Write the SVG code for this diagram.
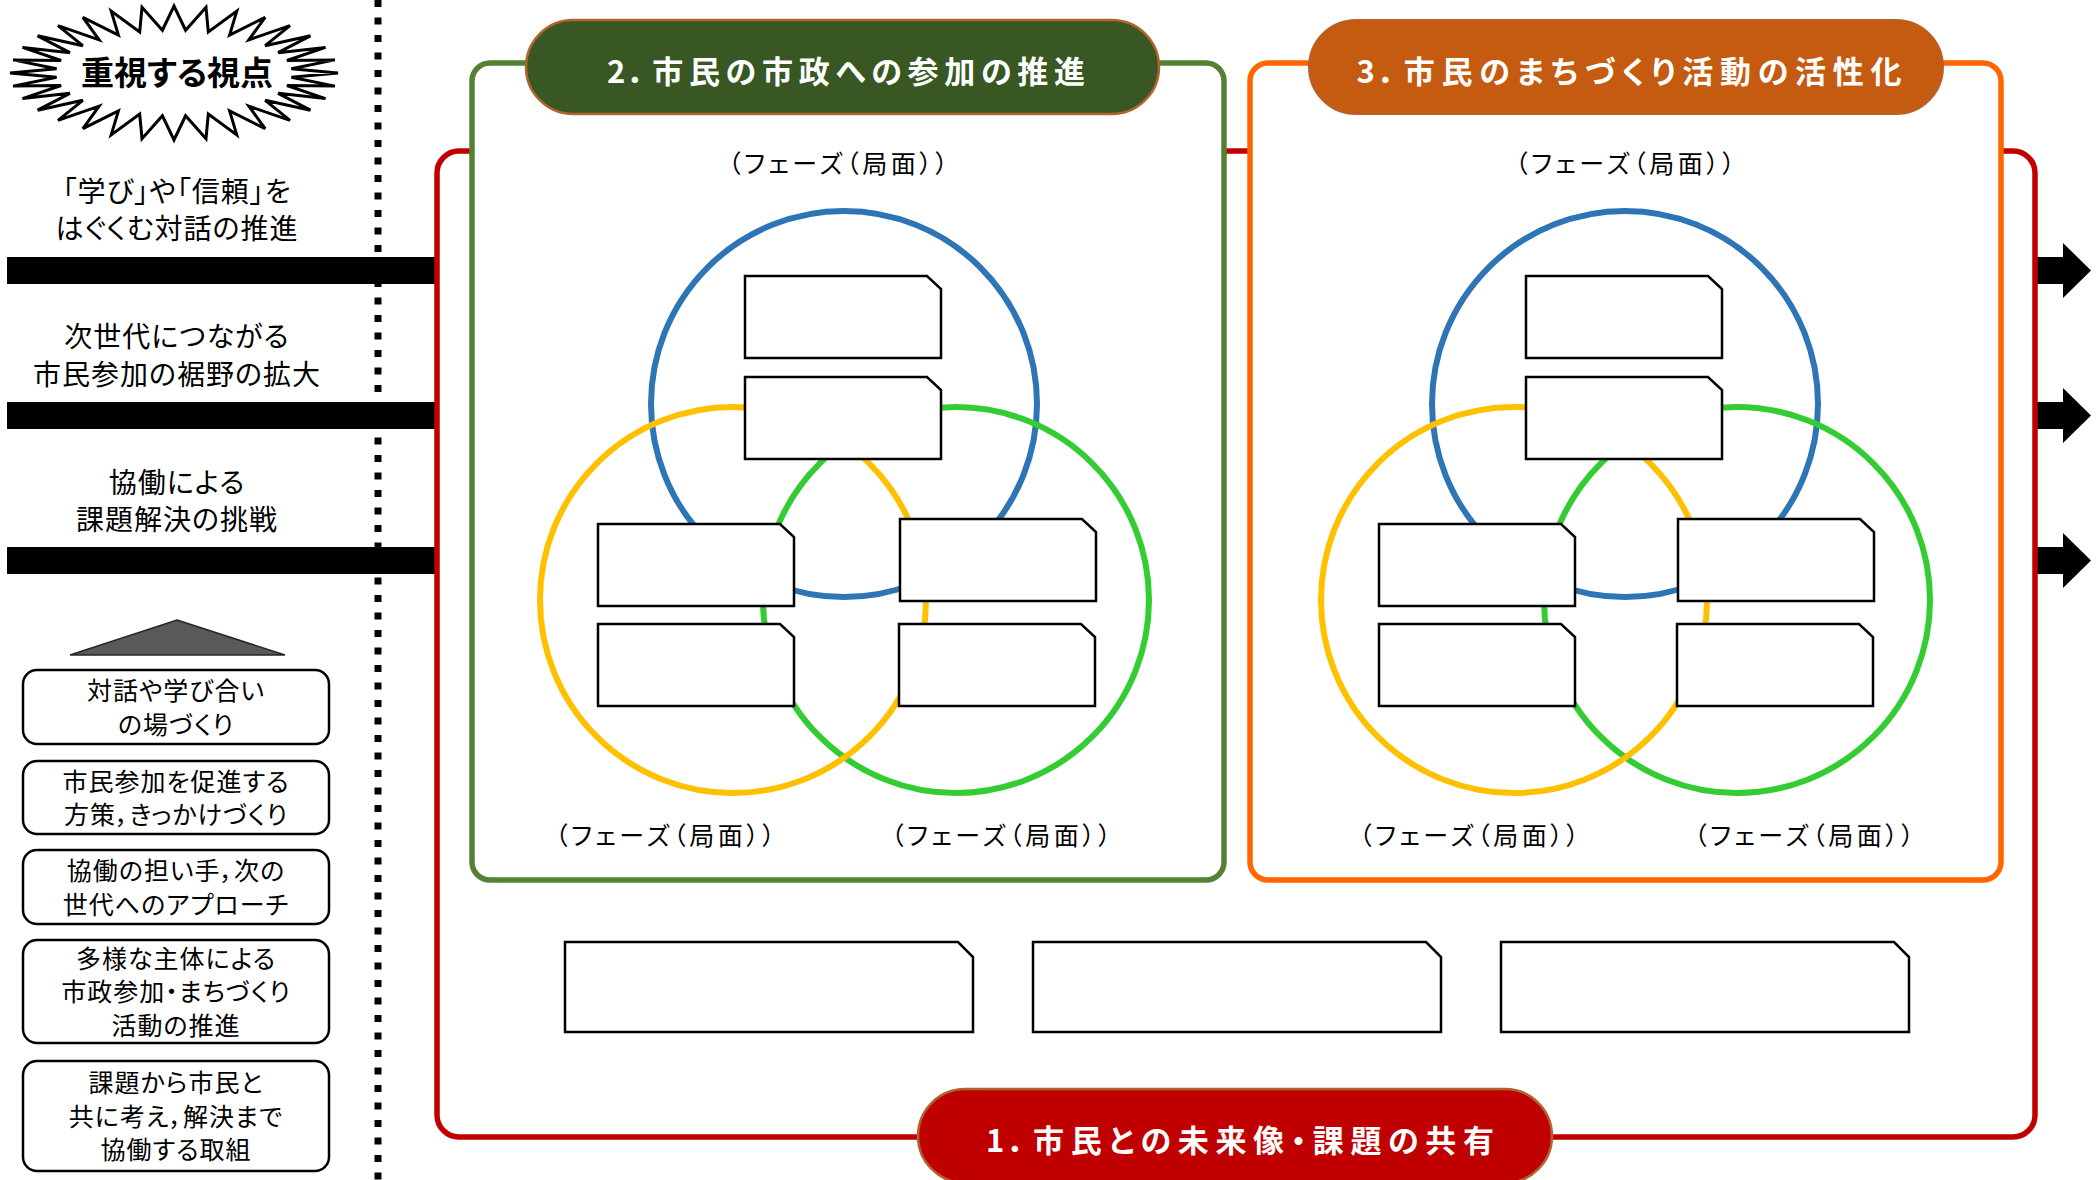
<svg xmlns="http://www.w3.org/2000/svg" xmlns:xlink="http://www.w3.org/1999/xlink" width="2098" height="1180" viewBox="0 0 2098 1180">
<defs>
<style>
text { font-family: "Noto Sans CJK JP", "Noto Sans", sans-serif; fill: #000; font-feature-settings: "palt" 1; }
.side { font-size: 28px; text-anchor: middle; letter-spacing: 1px; }
.btxt { font-size: 25px; text-anchor: middle; letter-spacing: 1px; }
.phase { font-size: 25px; text-anchor: middle; }
.title { font-size: 31px; font-weight: bold; fill: #fff; text-anchor: middle; }
.snip { fill: #fff; stroke: #000; stroke-width: 2.5; }
.rbox { fill: #fff; stroke: #000; stroke-width: 2.5; }
.cb { fill: none; stroke: #2E75B6; stroke-width: 6; }
.cy { fill: none; stroke: #FFC000; stroke-width: 6; }
.cg { fill: none; stroke: #33CC33; stroke-width: 6; }
.bar { fill: #000; }
</style>
<path id="snipS" d="M0,0 H182 L196,13 V82 H0 Z"/>
<path id="snipL" d="M0,0 H393 L408,15 V90 H0 Z"/>
</defs>
<rect x="0" y="0" width="2098" height="1180" fill="#fff"/>

<g id="star">
<polygon fill="#fff" stroke="#000" stroke-width="3" stroke-linejoin="miter" points="338,73 291.4,68.8 334.9,59.9 286.9,60.5 325.5,47.4 278.1,52.7 310.4,35.8 265.2,45.7 290,25.6 248.9,39.8 265.1,17.3 229.6,35.1 236.8,11.1 208.3,31.9 206,7.3 185.6,30.2 174,6 162.4,30.2 142,7.3 139.7,31.9 111.2,11.1 118.4,35.1 82.9,17.3 99.1,39.8 58,25.6 82.8,45.7 37.6,35.8 69.9,52.7 22.5,47.4 61.1,60.5 13.1,59.9 56.6,68.8 10,73 56.6,77.2 13.1,86.1 61.1,85.5 22.5,98.6 69.9,93.3 37.6,110.2 82.8,100.3 58,120.4 99.1,106.2 82.9,128.7 118.4,110.9 111.2,134.9 139.7,114.1 142,138.7 162.4,115.8 174,140 185.6,115.8 206,138.7 208.3,114.1 236.8,134.9 229.6,110.9 265.1,128.7 248.9,106.2 290,120.4 265.2,100.3 310.4,110.2 278.1,93.3 325.5,98.6 286.9,85.5 334.9,86.1 291.4,77.2"/>
<text x="177" y="85" font-size="33" font-weight="bold" text-anchor="middle">重視する視点</text>
</g>

<line x1="378" y1="0" x2="378" y2="1180" stroke="#000" stroke-width="7" stroke-dasharray="7 10.5"/>

<g id="viewpoint1">
<text class="side" x="177" y="202">「学び」や「信頼」を</text>
<text class="side" x="177" y="239">はぐくむ対話の推進</text>
</g>
<g id="viewpoint2">
<text class="side" x="177" y="347">次世代につながる</text>
<text class="side" x="177" y="385">市民参加の裾野の拡大</text>
</g>
<g id="viewpoint3">
<text class="side" x="177" y="493">協働による</text>
<text class="side" x="177" y="530">課題解決の挑戦</text>
</g>

<g id="connectors">
<rect class="bar" x="7" y="257" width="432" height="27"/>
<rect class="bar" x="7" y="402" width="432" height="27"/>
<rect class="bar" x="7" y="547" width="432" height="27"/>
<polygon class="bar" points="2037,257 2063,257 2063,243 2091,270.5 2063,298 2063,284 2037,284"/>
<polygon class="bar" points="2037,402 2063,402 2063,388 2091,415.5 2063,443 2063,429 2037,429"/>
<polygon class="bar" points="2037,547 2063,547 2063,533 2091,560.5 2063,588 2063,574 2037,574"/>
</g>

<g id="pyramid">
<polygon points="177,620 285,655 70,655" fill="#595959" stroke="#262626" stroke-width="1.5"/>
</g>
<g id="step1">
<rect class="rbox" x="23" y="670" width="306" height="74" rx="14"/>
<text class="btxt" x="176" y="700">対話や学び合い</text>
<text class="btxt" x="176" y="733.5">の場づくり</text>
</g>
<g id="step2">
<rect class="rbox" x="23" y="761" width="306" height="73" rx="14"/>
<text class="btxt" x="176" y="790.5">市民参加を促進する</text>
<text class="btxt" x="176" y="824">方策，きっかけづくり</text>
</g>
<g id="step3">
<rect class="rbox" x="23" y="850" width="306" height="74" rx="14"/>
<text class="btxt" x="176" y="880">協働の担い手，次の</text>
<text class="btxt" x="176" y="913.5">世代へのアプローチ</text>
</g>
<g id="step4">
<rect class="rbox" x="23" y="940" width="306" height="103" rx="14"/>
<text class="btxt" x="176" y="967.5">多様な主体による</text>
<text class="btxt" x="176" y="1001">市政参加・まちづくり</text>
<text class="btxt" x="176" y="1034.5">活動の推進</text>
</g>
<g id="step5">
<rect class="rbox" x="23" y="1061" width="306" height="110" rx="14"/>
<text class="btxt" x="176" y="1092">課題から市民と</text>
<text class="btxt" x="176" y="1125.5">共に考え，解決まで</text>
<text class="btxt" x="176" y="1159">協働する取組</text>
</g>

<g id="frame1">
<rect x="437" y="151" width="1598" height="986" rx="22" fill="#fff" stroke="#C00000" stroke-width="5.5"/>
</g>

<g id="frame2">
<rect x="472" y="63" width="752" height="817" rx="18" fill="#fff" stroke="#548235" stroke-width="5.5"/>
<rect x="526" y="20" width="633" height="94" rx="47" fill="#385723" stroke="#B0652E" stroke-width="2.5"/>
<text class="title" x="846" y="83" textLength="478" lengthAdjust="spacing">2．市民の市政への参加の推進</text>
</g>

<g id="frame3">
<rect x="1250" y="63" width="751" height="817" rx="18" fill="#fff" stroke="#FF6600" stroke-width="5.5"/>
<rect x="1309" y="20" width="634" height="94" rx="47" fill="#C55A11" stroke="#B8602A" stroke-width="2"/>
<text class="title" x="1629" y="83" textLength="545" lengthAdjust="spacing">3．市民のまちづくり活動の活性化</text>
</g>

<g id="venn2">
<circle class="cb" cx="844" cy="404" r="193"/>
<circle class="cg" cx="956" cy="600" r="193"/>
<circle class="cy" cx="733" cy="600" r="193"/>
<text class="phase" x="838" y="173" textLength="220" lengthAdjust="spacing">（フェーズ（局面））</text>
<text class="phase" x="665" y="845" textLength="220" lengthAdjust="spacing">（フェーズ（局面））</text>
<text class="phase" x="1001" y="845" textLength="220" lengthAdjust="spacing">（フェーズ（局面））</text>
</g>
<g id="v2-top1"><use xlink:href="#snipS" class="snip" x="745" y="276"/></g>
<g id="v2-top2"><use xlink:href="#snipS" class="snip" x="745" y="377"/></g>
<g id="v2-left1"><use xlink:href="#snipS" class="snip" x="598" y="524"/></g>
<g id="v2-left2"><use xlink:href="#snipS" class="snip" x="598" y="624"/></g>
<g id="v2-right1"><use xlink:href="#snipS" class="snip" x="900" y="519"/></g>
<g id="v2-right2"><use xlink:href="#snipS" class="snip" x="899" y="624"/></g>

<g id="venn3">
<circle class="cb" cx="1625" cy="404" r="193"/>
<circle class="cg" cx="1737" cy="600" r="193"/>
<circle class="cy" cx="1514" cy="600" r="193"/>
<text class="phase" x="1625" y="173" textLength="220" lengthAdjust="spacing">（フェーズ（局面））</text>
<text class="phase" x="1469" y="845" textLength="220" lengthAdjust="spacing">（フェーズ（局面））</text>
<text class="phase" x="1804" y="845" textLength="220" lengthAdjust="spacing">（フェーズ（局面））</text>
</g>
<g id="v3-top1"><use xlink:href="#snipS" class="snip" x="1526" y="276"/></g>
<g id="v3-top2"><use xlink:href="#snipS" class="snip" x="1526" y="377"/></g>
<g id="v3-left1"><use xlink:href="#snipS" class="snip" x="1379" y="524"/></g>
<g id="v3-left2"><use xlink:href="#snipS" class="snip" x="1379" y="624"/></g>
<g id="v3-right1"><use xlink:href="#snipS" class="snip" x="1678" y="519"/></g>
<g id="v3-right2"><use xlink:href="#snipS" class="snip" x="1677" y="624"/></g>

<g id="bottom1"><use xlink:href="#snipL" class="snip" x="565" y="942"/></g>
<g id="bottom2"><use xlink:href="#snipL" class="snip" x="1033" y="942"/></g>
<g id="bottom3"><use xlink:href="#snipL" class="snip" x="1501" y="942"/></g>

<g id="title1">
<rect x="918" y="1089" width="634" height="94" rx="47" fill="#C00000" stroke="#B0652E" stroke-width="2.5"/>
<text class="title" x="1240" y="1152" textLength="508" lengthAdjust="spacing">1．市民との未来像・課題の共有</text>
</g>
</svg>
